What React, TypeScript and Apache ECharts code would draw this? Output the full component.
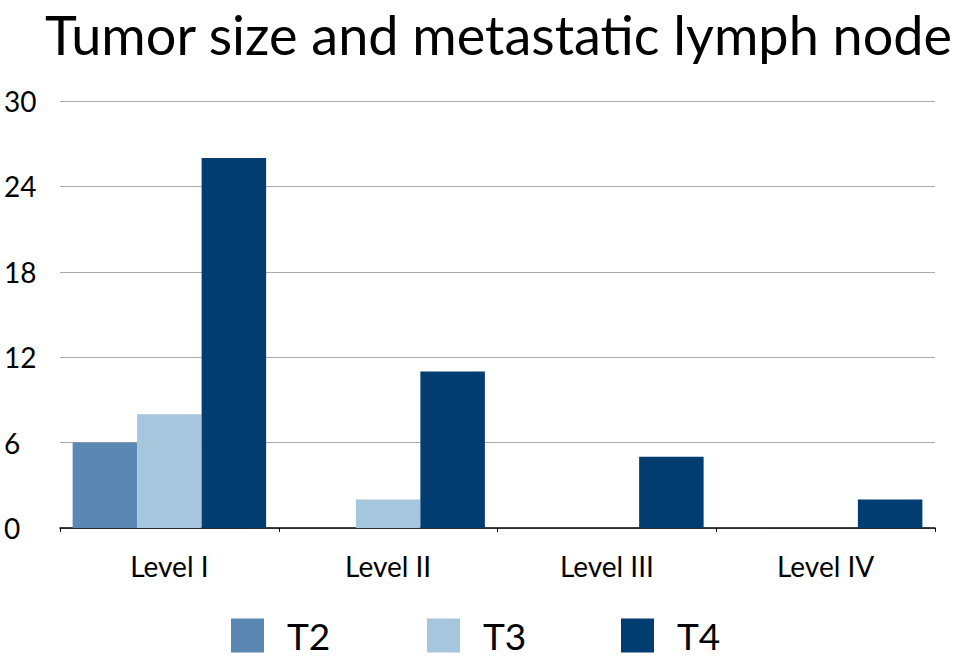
import React, { useEffect, useRef } from "react";
import * as echarts from "echarts";

const categories = ["Level I", "Level II", "Level III", "Level IV"];
const seriesNames = ["T2", "T3", "T4"];
const t2Values = [6, 0, 0, 0];
const t3Values = [8, 2, 0, 0];
const t4Values = [26, 11, 5, 2];
const yTicks = [0, 6, 12, 18, 24, 30];
const colors = ["#5b87b3", "#a6c6de", "#023d72"];

const FONT = "Lato, 'Open Sans', sans-serif";

export default function App() {
  const ref = useRef<HTMLDivElement>(null);
  useEffect(() => {
    if (!ref.current) return;
    const chart = echarts.init(ref.current, null, { renderer: "svg" });
    const values = [t2Values, t3Values, t4Values];
    const legendLefts = [226, 422, 616];
    chart.setOption({
      animation: false,
      backgroundColor: "#ffffff",
      title: {
        text: "Tumor size and metastatic lymph node",
        left: 40,
        top: 2,
        textStyle: { fontFamily: FONT, fontSize: 54, fontWeight: "normal", color: "#000" },
      },
      legend: seriesNames.map((n, i) => ({
        data: [n],
        left: legendLefts[i],
        top: 612,
        itemWidth: 33,
        itemHeight: 34,
        icon: "rect",
        textStyle: { fontFamily: FONT, fontSize: 37, color: "#000", padding: [0, 0, 0, 18] },
      })),
      grid: { left: 60, right: 20, top: 101, bottom: 133, containLabel: false },
      xAxis: {
        type: "category",
        data: categories,
        axisLine: { lineStyle: { color: "#000", width: 1.5 } },
        axisTick: { show: true, length: 4, lineStyle: { color: "#000" } },
        axisLabel: { fontFamily: FONT, fontSize: 28, color: "#000", margin: 24 },
      },
      yAxis: {
        type: "value",
        min: yTicks[0],
        max: yTicks[yTicks.length - 1],
        interval: 6,
        axisLine: { show: false },
        axisTick: { show: false },
        splitLine: { lineStyle: { color: "#aaaaaa", width: 1 } },
        axisLabel: { fontFamily: FONT, fontSize: 28, color: "#000", align: "left", margin: 56 },
      },
      series: seriesNames.map((n, i) => ({
        name: n,
        type: "bar",
        data: values[i],
        barWidth: 64.5,
        barGap: "0%",
        itemStyle: { color: colors[i] },
      })),
    });
    return () => chart.dispose();
  }, []);
  return <div ref={ref} style={{ width: 955, height: 661, position: "absolute", left: 0, top: 0 }} />;
}
